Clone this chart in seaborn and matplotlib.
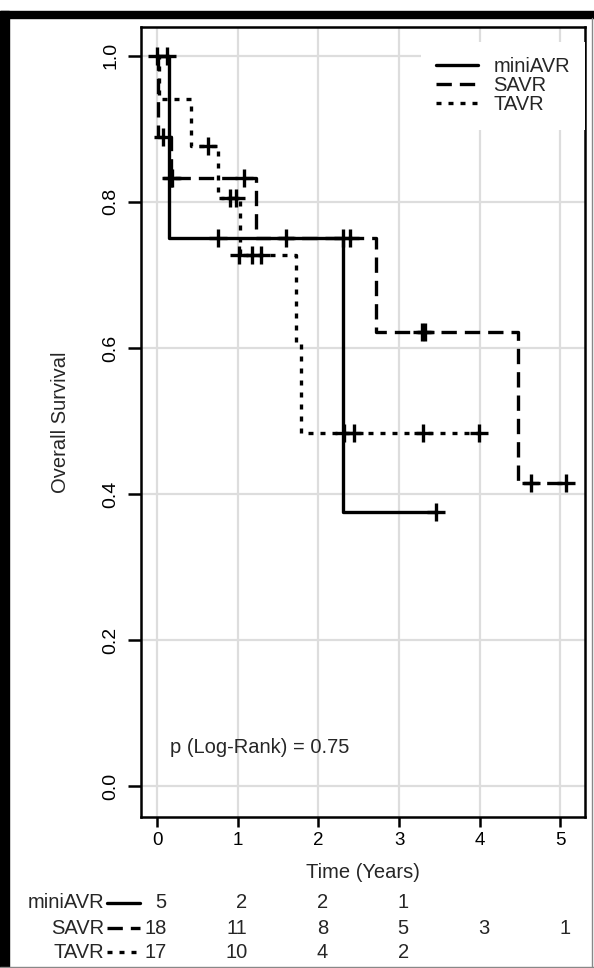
import matplotlib
matplotlib.use("Agg")
import matplotlib.pyplot as plt
import matplotlib.transforms as mtransforms
from matplotlib.lines import Line2D
from matplotlib.patches import Rectangle
import seaborn as sns

# Kaplan-Meier steps (time of step, survival after step)
mini_t = [0.0, 0.145, 2.30, 3.46]
mini_s = [1.0, 0.750, 0.375, 0.375]
savr_t = [0.0, 0.01, 0.17, 1.22, 2.71, 4.47, 5.10]
savr_s = [1.0, 0.889, 0.833, 0.750, 0.622, 0.415, 0.415]
tavr_t = [0.0, 0.02, 0.425, 0.76, 1.03, 1.72, 1.78, 4.00]
tavr_s = [1.0, 0.941, 0.876, 0.806, 0.727, 0.605, 0.484, 0.484]

# censored patients
mini_ct = [0.12, 0.76, 3.46]
mini_cs = [1.0, 0.75, 0.375]
savr_ct = [0.07, 0.17, 0.19, 1.08, 1.60, 2.30, 2.39, 3.28, 3.32, 4.64, 5.07]
savr_cs = [0.889, 0.833, 0.833, 0.833, 0.75, 0.75, 0.75, 0.622, 0.622, 0.415, 0.415]
tavr_ct = [0.0, 0.63, 0.90, 0.98, 1.02, 1.17, 1.29, 2.32, 2.44, 3.29, 3.99]
tavr_cs = [1.0, 0.876, 0.806, 0.806, 0.727, 0.727, 0.727, 0.484, 0.484, 0.484, 0.484]

# numbers at risk
risk_times = [0, 1, 2, 3, 4, 5]
mini_risk = [5, 2, 2, 1]
savr_risk = [18, 11, 8, 5, 3, 1]
tavr_risk = [17, 10, 4, 2]

groups = ["miniAVR", "SAVR", "TAVR"]
p_text = "p (Log-Rank) = 0.75"

sns.set_style("white")
plt.rcParams["font.family"] = ["Liberation Sans", "DejaVu Sans"]

W, H = 594, 968
fs = 14.5
fig = plt.figure(figsize=(W / 100, H / 100), dpi=100)
ax = fig.add_axes([140.7 / W, 1 - 817 / H, (585 - 140.7) / W, (817 - 27.3) / H])

styles = {
    "miniAVR": "-",
    "SAVR": (0, (4.6, 2.4)),
    "TAVR": (0, (1.5, 2.1)),
}
curves = {
    "miniAVR": (mini_t, mini_s, mini_ct, mini_cs),
    "SAVR": (savr_t, savr_s, savr_ct, savr_cs),
    "TAVR": (tavr_t, tavr_s, tavr_ct, tavr_cs),
}
lw = 2.4

for g in groups:
    t, s, ct, cs = curves[g]
    sns.lineplot(x=t, y=s, drawstyle="steps-post", estimator=None, sort=False,
                 color="black", lw=lw, linestyle=styles[g], label=g, ax=ax)
    sns.scatterplot(x=ct, y=cs, marker="+", s=170, color="black",
                    linewidth=2.4, legend=False, ax=ax, zorder=3)

ax.set_xlim(-0.204, 5.304)
ax.set_ylim(-0.0418, 1.039)
ax.set_xticks(risk_times)
ax.set_yticks([0.0, 0.2, 0.4, 0.6, 0.8, 1.0])
ax.set_yticklabels(["0.0", "0.2", "0.4", "0.6", "0.8", "1.0"])
ax.grid(True, color="#dddddd", lw=1.6)
ax.set_axisbelow(True)
for sp in ax.spines.values():
    sp.set_color("black")
    sp.set_linewidth(1.8)
ax.tick_params(axis="x", length=7, width=1.8, pad=4, labelsize=13.5, direction="out",
               bottom=True, colors="black")
ax.tick_params(axis="y", length=9.5, width=1.8, pad=6, labelsize=14, direction="out",
               left=True, colors="black")
for lab in ax.get_yticklabels():
    lab.set_rotation(90)
    lab.set_va("center")
    lab.set_ha("right")
ax.set_xlabel("")
ax.set_ylabel("")

ax.legend(loc="upper left", bbox_to_anchor=(0.631, 0.982), borderaxespad=0,
          frameon=True, facecolor="white", edgecolor="none", framealpha=1,
          fancybox=False, fontsize=fs, handlelength=2.1, handletextpad=0.75,
          labelspacing=0.02, borderpad=0.75)

ax.text(0.16, 0.053, p_text, fontsize=fs, va="center", ha="left")

fig.text(61 / W, 1 - 422 / H, "Overall Survival", rotation=90, ha="center",
         va="center", fontsize=fs)
fig.text(363 / W, 1 - 872 / H, "Time (Years)", ha="center", va="center", fontsize=fs)

# numbers at risk table
tr = mtransforms.blended_transform_factory(ax.transData, fig.transFigure)
rows = [("miniAVR", mini_risk, 903), ("SAVR", savr_risk, 928), ("TAVR", tavr_risk, 952)]
for name, counts, ypx in rows:
    yf = 1 - ypx / H
    fig.text(104 / W, yf, name, ha="right", va="center", fontsize=fs)
    fig.add_artist(Line2D([107 / W, 140 / W], [yf, yf], color="black", lw=lw,
                          linestyle=styles[name], transform=fig.transFigure))
    for t, n in zip(risk_times, counts):
        ax.text(t + 0.12, yf, str(n), transform=tr, ha="right", va="center",
                fontsize=fs, clip_on=False)

# frame around the figure
fig.patches.append(Rectangle((0, 1 - 18 / H), 1, 7 / H, transform=fig.transFigure,
                             color="black", zorder=0))
fig.patches.append(Rectangle((0, 0), 9 / W, 1 - 11 / H, transform=fig.transFigure,
                             color="black", zorder=0))
fig.add_artist(Line2D([591.5 / W, 591.5 / W], [0, 1 - 18 / H], color="#888888", lw=1,
                      transform=fig.transFigure))
fig.add_artist(Line2D([0, 1], [1.5 / H, 1.5 / H], color="#888888", lw=1,
                      transform=fig.transFigure))

fig.savefig("out.png", dpi=100)
